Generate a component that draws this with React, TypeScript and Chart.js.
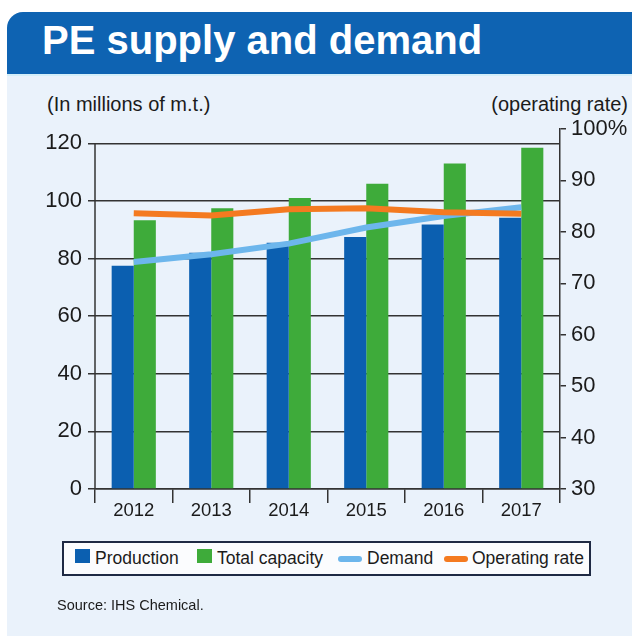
import React, { useEffect, useRef } from "react";
import { Chart, registerables } from "chart.js";

Chart.register(...registerables);

const categories = ["2012", "2013", "2014", "2015", "2016", "2017"];
const production = [77.5, 82, 85.5, 87.5, 91.8, 94.2];
const totalCapacity = [93.3, 97.5, 101, 106, 113, 118.5];
const demand = [78.8, 81.5, 85.2, 90.8, 94.8, 97.8];
const operatingRate = [83.6, 83.2, 84.4, 84.6, 83.8, 83.5];
const leftTicks = [0, 20, 40, 60, 80, 100, 120];
const rightTicks = [30, 40, 50, 60, 70, 80, 90, 100];

const title = "PE supply and demand";
const leftAxisTitle = "(In millions of m.t.)";
const rightAxisTitle = "(operating rate)";
const sourceText = "Source: IHS Chemical.";

const FONT = '"Liberation Sans", Arial, Helvetica, sans-serif';
const C_PROD = "#0b5fb0";
const C_CAP = "#3eab3a";
const C_DEM = "#6db6ec";
const C_OPR = "#f47a20";
const C_AXIS = "#333333";
const C_TEXT = "#1b1b1b";

const legendItems = [
  { label: "Production", color: C_PROD, kind: "box", x: 75, tx: 95 },
  { label: "Total capacity", color: C_CAP, kind: "box", x: 197, tx: 217 },
  { label: "Demand", color: C_DEM, kind: "line", x: 338, tx: 367 },
  { label: "Operating rate", color: C_OPR, kind: "line", x: 444, tx: 472 },
];

const leftAxisLine = {
  id: "leftAxisLine",
  afterDraw(chart: any) {
    const y = chart.scales.y;
    const ctx = chart.ctx;
    ctx.save();
    ctx.strokeStyle = C_AXIS;
    ctx.lineWidth = 1.5;
    ctx.beginPath();
    ctx.moveTo(y.right, y.getPixelForValue(leftTicks[leftTicks.length - 1]));
    ctx.lineTo(y.right, y.getPixelForValue(0));
    ctx.stroke();
    ctx.restore();
  },
};

export default function App() {
  const ref = useRef<HTMLCanvasElement | null>(null);

  useEffect(() => {
    if (!ref.current) return;
    const chart = new Chart(ref.current, {
      type: "bar",
      data: {
        labels: categories,
        datasets: [
          {
            type: "line",
            label: "Operating rate",
            data: operatingRate,
            yAxisID: "y2",
            borderColor: C_OPR,
            backgroundColor: C_OPR,
            borderWidth: 6,
            pointRadius: 0,
            tension: 0,
            borderCapStyle: "butt",
            order: 0,
          } as any,
          {
            type: "line",
            label: "Demand",
            data: demand,
            yAxisID: "y",
            borderColor: C_DEM,
            backgroundColor: C_DEM,
            borderWidth: 6,
            pointRadius: 0,
            tension: 0,
            borderCapStyle: "butt",
            order: 1,
          } as any,
          {
            type: "bar",
            label: "Production",
            data: production,
            yAxisID: "y",
            backgroundColor: C_PROD,
            categoryPercentage: 0.57,
            barPercentage: 1,
            order: 2,
          } as any,
          {
            type: "bar",
            label: "Total capacity",
            data: totalCapacity,
            yAxisID: "y",
            backgroundColor: C_CAP,
            categoryPercentage: 0.57,
            barPercentage: 1,
            order: 2,
          } as any,
        ],
      },
      options: {
        responsive: false,
        animation: false,
        devicePixelRatio: 1,
        layout: { padding: { top: 129, bottom: 111, left: 0, right: 0 } },
        plugins: {
          legend: { display: false },
          tooltip: { enabled: false },
          title: { display: false },
        },
        scales: {
          x: {
            offset: true,
            grid: {
              offset: true,
              drawOnChartArea: false,
              drawTicks: true,
              tickLength: 14,
              color: C_AXIS,
              lineWidth: 1.5,
            },
            border: { display: true, color: C_AXIS, width: 1.5 },
            ticks: {
              color: C_TEXT,
              font: { family: FONT, size: 18.5, lineHeight: 1 },
              padding: -1,
              maxRotation: 0,
            },
            afterFit(scale: any) {
              scale.height = 36;
            },
          },
          y: {
            position: "left",
            min: 0,
            max: 125,
            afterBuildTicks(scale: any) {
              scale.ticks = leftTicks.map((v) => ({ value: v }));
            },
            grid: {
              color: C_AXIS,
              lineWidth: 1.5,
              drawTicks: true,
              tickLength: 7,
            },
            border: { display: false },
            ticks: {
              color: C_TEXT,
              font: { family: FONT, size: 22 },
              padding: 6,
            },
            afterFit(scale: any) {
              scale.width = 95;
            },
          },
          y2: {
            position: "right",
            min: 30,
            max: 100,
            afterBuildTicks(scale: any) {
              scale.ticks = rightTicks.map((v) => ({ value: v }));
            },
            grid: {
              drawOnChartArea: false,
              drawTicks: true,
              tickLength: 6,
              color: C_AXIS,
              lineWidth: 1.5,
            },
            border: { display: true, color: C_AXIS, width: 1.5 },
            ticks: {
              color: C_TEXT,
              font: { family: FONT, size: 22 },
              padding: 5,
              callback: (v: any) => (v === 100 ? "100%" : String(v)),
            },
            afterFit(scale: any) {
              scale.width = 72;
            },
          },
        },
      },
      plugins: [leftAxisLine],
    });
    return () => chart.destroy();
  }, []);

  return (
    <div style={{ position: "relative", width: 632, height: 636, overflow: "hidden", background: "#ffffff", fontFamily: FONT }}>
      <style>{`body{margin:0;}`}</style>
      <div style={{ position: "absolute", left: 7, top: 12, width: 625, height: 624, background: "#eaf2fb", borderTopLeftRadius: 16 }} />
      <div style={{ position: "absolute", left: 7, top: 12, width: 625, height: 62, background: "#0e63b2", borderTopLeftRadius: 16 }} />
      <div style={{ position: "absolute", left: 7, top: 74, width: 625, height: 2, background: "#d3eef9" }} />
      <div style={{ position: "absolute", left: 42, top: 19.5, fontSize: 40, lineHeight: "40px", fontWeight: 700, color: "#ffffff", whiteSpace: "nowrap" }}>{title}</div>
      <div style={{ position: "absolute", left: 47, top: 94, fontSize: 20, lineHeight: "20px", color: C_TEXT, whiteSpace: "nowrap" }}>{leftAxisTitle}</div>
      <div style={{ position: "absolute", right: 4, top: 94, fontSize: 20, lineHeight: "20px", color: C_TEXT, whiteSpace: "nowrap" }}>{rightAxisTitle}</div>
      <canvas ref={ref} width={632} height={636} style={{ position: "absolute", left: 0, top: 0, width: 632, height: 636 }} />
      <div style={{ position: "absolute", left: 62, top: 541, width: 525, height: 31, border: "2px solid #1f2a44", background: "#fbfcfe" }} />
      {legendItems.map((it) => (
        <React.Fragment key={it.label}>
          {it.kind === "box" ? (
            <div style={{ position: "absolute", left: it.x, top: 549, width: 15, height: 14, background: it.color }} />
          ) : (
            <div style={{ position: "absolute", left: it.x, top: 556, width: 24, height: 6, borderRadius: 3, background: it.color }} />
          )}
          <div style={{ position: "absolute", left: it.tx, top: 550, fontSize: 17.5, lineHeight: "17.5px", color: C_TEXT, whiteSpace: "nowrap" }}>{it.label}</div>
        </React.Fragment>
      ))}
      <div style={{ position: "absolute", left: 57, top: 598, fontSize: 14.5, lineHeight: "14.5px", color: C_TEXT, whiteSpace: "nowrap" }}>{sourceText}</div>
    </div>
  );
}
